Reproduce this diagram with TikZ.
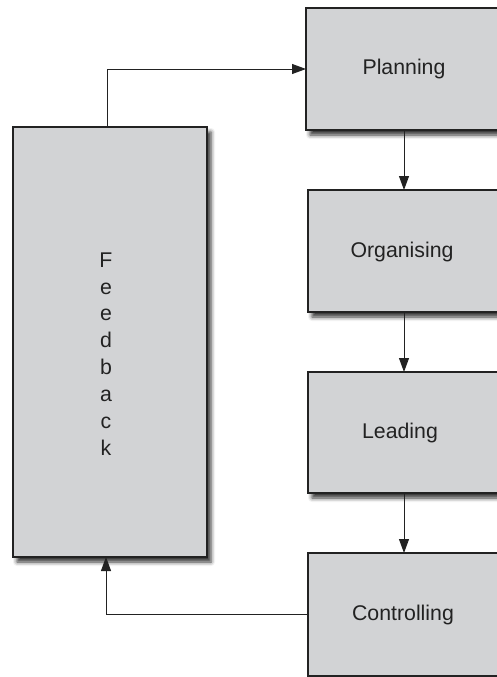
\documentclass[tikz,border=0pt]{standalone}
\usepackage{fontspec}
\setmainfont{Liberation Sans}
\usetikzlibrary{arrows.meta,shadows.blur}
\definecolor{boxfill}{HTML}{D2D3D5}
\definecolor{ink}{HTML}{222222}
\begin{document}
\begin{tikzpicture}[x=1pt,y=-1pt,
  box/.style={draw=ink,line width=1.3pt,fill=boxfill,
    blur shadow={shadow xshift=4pt,shadow yshift=-5pt,shadow blur radius=4pt,shadow opacity=80},
    inner sep=0pt,outer sep=0pt,anchor=north west},
  lbl/.style={font=\fontsize{21.3}{26.9}\selectfont,text=ink,inner sep=0pt},
  conn/.style={draw=ink,line width=0.9pt,-{Triangle[length=14pt,width=10pt]}}]
\useasboundingbox (0,0) rectangle (497,677);
% boxes
\node[box,minimum width=196pt,minimum height=122pt] (plan) at (306,8) {};
\node[box,minimum width=192pt,minimum height=122pt] (org) at (308,190) {};
\node[box,minimum width=192pt,minimum height=121pt] (lead) at (308,372) {};
\node[box,minimum width=192pt,minimum height=123pt] (ctrl) at (308,553) {};
\node[box,minimum width=194pt,minimum height=430pt] (fb) at (13,127) {};
% labels
\node[lbl] (tplan) at (404,69) {Planning};
\node[lbl] (torg) at (402,252) {Organising};
\node[lbl] (tlead) at (400,433) {Leading};
\node[lbl] (tctrl) at (403,615) {Controlling};
\node[lbl,align=center] (tfb) at (106,354) {F\\e\\e\\d\\b\\a\\c\\k};
% connectors
\draw[conn] (plan.south) -- (org.north);
\draw[conn] (org.south) -- (lead.north);
\draw[conn] (lead.south) -- (ctrl.north);
\draw[conn] ([xshift=-3pt]fb.north) |- (plan.west);
\draw[conn] (ctrl.west) -| ([xshift=-4pt]fb.south);
\end{tikzpicture}
\end{document}
